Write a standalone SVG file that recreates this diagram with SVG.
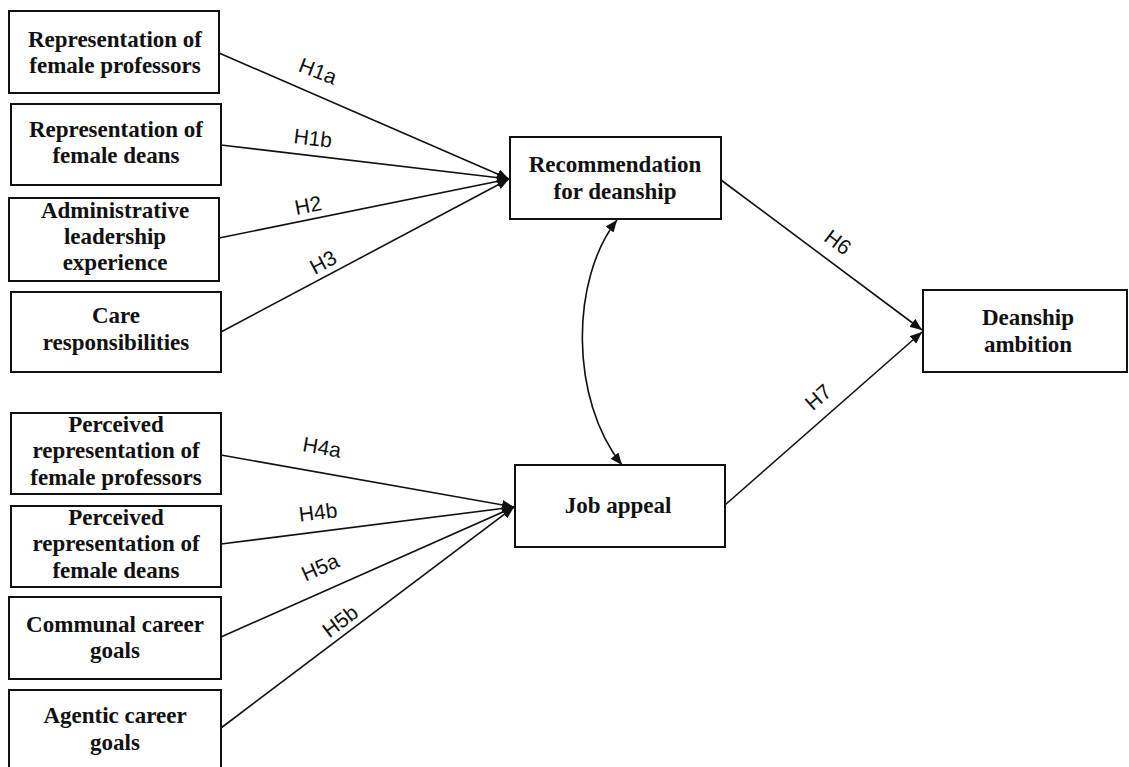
<svg xmlns="http://www.w3.org/2000/svg" width="1129" height="767" viewBox="0 0 1129 767">
<style>
.box{fill:#fff;stroke:#111;stroke-width:2}
.t{font-family:"Liberation Serif","Times New Roman",serif;font-weight:bold;font-size:23px;fill:#111;text-anchor:middle}
.c{fill:none;stroke:#111;stroke-width:1.6}
.h{font-family:"Liberation Sans",Arial,sans-serif;font-size:21px;fill:#111;text-anchor:middle;dominant-baseline:central}
</style>
<defs>
<marker id="ah" viewBox="0 0 12 10" refX="12" refY="5" markerWidth="12" markerHeight="10" markerUnits="userSpaceOnUse" orient="auto-start-reverse">
<path d="M0,0 L12,5 L0,10 Z" fill="#111"/>
</marker>
</defs>
<rect width="1129" height="767" fill="#fff"/>
<g id="connectors">
<line class="c" x1="219" y1="53" x2="509" y2="179" marker-end="url(#ah)"/>
<line class="c" x1="221" y1="145" x2="509" y2="179" marker-end="url(#ah)"/>
<line class="c" x1="219" y1="238" x2="509" y2="179" marker-end="url(#ah)"/>
<line class="c" x1="221" y1="332" x2="509" y2="179" marker-end="url(#ah)"/>
<line class="c" x1="221" y1="455" x2="514" y2="507" marker-end="url(#ah)"/>
<line class="c" x1="221" y1="544" x2="514" y2="507" marker-end="url(#ah)"/>
<line class="c" x1="221" y1="637" x2="514" y2="507" marker-end="url(#ah)"/>
<line class="c" x1="221" y1="728" x2="514" y2="507" marker-end="url(#ah)"/>
<line class="c" x1="721" y1="180" x2="922" y2="330" marker-end="url(#ah)"/>
<line class="c" x1="725" y1="505" x2="922" y2="332" marker-end="url(#ah)"/>
<path class="c" d="M617,220 C570,280 570,400 622,465" marker-start="url(#ah)" marker-end="url(#ah)"/>
<text class="h" transform="translate(318,71) rotate(21)">H1a</text>
<text class="h" transform="translate(313,138) rotate(7)">H1b</text>
<text class="h" transform="translate(308,205) rotate(-11)">H2</text>
<text class="h" transform="translate(323,262) rotate(-28)">H3</text>
<text class="h" transform="translate(322,447) rotate(10)">H4a</text>
<text class="h" transform="translate(318,512) rotate(-7)">H4b</text>
<text class="h" transform="translate(320,567) rotate(-24)">H5a</text>
<text class="h" transform="translate(340,621) rotate(-37)">H5b</text>
<text class="h" transform="translate(838,242) rotate(37)">H6</text>
<text class="h" transform="translate(818,397) rotate(-41)">H7</text>
</g>
<g id="n1"><rect class="box" x="9" y="11" width="210" height="82"/><text class="t" x="115" y="47">Representation of</text><text class="t" x="115" y="73">female professors</text></g>
<g id="n2"><rect class="box" x="11" y="104" width="210" height="81"/><text class="t" x="116" y="137">Representation of</text><text class="t" x="116" y="163">female deans</text></g>
<g id="n3"><rect class="box" x="9" y="198" width="210" height="83"/><text class="t" x="115" y="218">Administrative</text><text class="t" x="115" y="244">leadership</text><text class="t" x="115" y="270">experience</text></g>
<g id="n4"><rect class="box" x="11" y="292" width="210" height="80"/><text class="t" x="116" y="323">Care</text><text class="t" x="116" y="350">responsibilities</text></g>
<g id="n5"><rect class="box" x="11" y="413" width="210" height="81"/><text class="t" x="116" y="432">Perceived</text><text class="t" x="116" y="458">representation of</text><text class="t" x="116" y="485">female professors</text></g>
<g id="n6"><rect class="box" x="11" y="506" width="210" height="81"/><text class="t" x="116" y="525">Perceived</text><text class="t" x="116" y="551">representation of</text><text class="t" x="116" y="578">female deans</text></g>
<g id="n7"><rect class="box" x="9" y="597" width="212" height="82"/><text class="t" x="115" y="632">Communal career</text><text class="t" x="115" y="658">goals</text></g>
<g id="n8"><rect class="box" x="9" y="690" width="212" height="90"/><text class="t" x="115" y="723">Agentic career</text><text class="t" x="115" y="750">goals</text></g>
<g id="rec"><rect class="box" x="510" y="137" width="211" height="82"/><text class="t" x="615" y="172">Recommendation</text><text class="t" x="615" y="199">for deanship</text></g>
<g id="job"><rect class="box" x="515" y="465" width="210" height="82"/><text class="t" x="618" y="513">Job appeal</text></g>
<g id="amb"><rect class="box" x="923" y="290" width="204" height="82"/><text class="t" x="1028" y="325">Deanship</text><text class="t" x="1028" y="352">ambition</text></g>
</svg>
